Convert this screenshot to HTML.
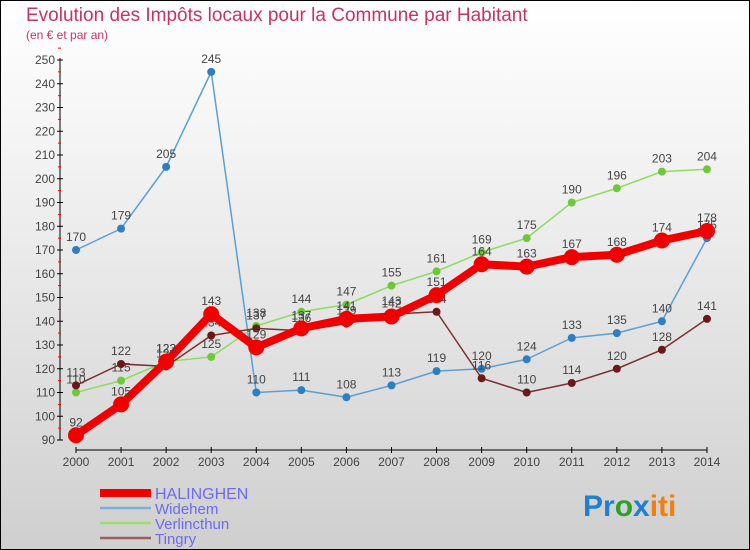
<!DOCTYPE html>
<html><head><meta charset="utf-8"><style>
body{margin:0;width:750px;height:550px;overflow:hidden;font-family:"Liberation Sans",sans-serif}
#frame{position:absolute;left:0;top:0;width:748px;height:548px;border:1px solid #000;background:linear-gradient(#fff,#f2f2f2 30%,#cfcfcf)}
</style></head><body>
<div id="frame">
<svg id="chart" width="750" height="550" style="position:absolute;left:-1px;top:-1px">
<text x="26" y="21" font-size="19" fill="#c8325f">Evolution des Impôts locaux pour la Commune par Habitant</text>
<text x="26" y="39" font-size="12" fill="#c8325f">(en € et par an)</text>
<g id="axes"></g><g id="series"></g><g id="legend"></g>
<text x="583" y="516" font-size="30" font-weight="bold"><tspan fill="#1f7fd0">Pr</tspan><tspan fill="#2ca02c">o</tspan><tspan fill="#1f7fd0">x</tspan><tspan fill="#f07f10">iti</tspan></text>
</svg></div>
<script>
const years=[2000,2001,2002,2003,2004,2005,2006,2007,2008,2009,2010,2011,2012,2013,2014];
const halinghen=[92,105,123,143,129,137,141,142,151,164,163,167,168,174,178];
const widehem=[170,179,205,245,110,111,108,113,119,120,124,133,135,140,175];
const verlincthun=[110,115,123,125,138,144,147,155,161,169,175,190,196,203,204];
const tingry=[113,122,121,134,137,136,139,143,144,116,110,114,120,128,141];
const yTicks=[90,100,110,120,130,140,150,160,170,180,190,200,210,220,230,240,250];
const NS="http://www.w3.org/2000/svg";
const X=i=>76+i*45.07, Y=v=>440-(v-90)*2.375;
function mk(t,a,p){const e=document.createElementNS(NS,t);for(const k in a)e.setAttribute(k,a[k]);p.appendChild(e);return e;}
const ax=document.getElementById('axes');
let yl=mk('line',{x1:60,y1:58,x2:60,y2:440,stroke:'#000'},ax);


yTicks.forEach(v=>{
 mk('line',{x1:57,y1:Y(v),x2:63,y2:Y(v),stroke:'#000'},ax);
 mk('line',{x1:58,y1:Y(v+5),x2:61,y2:Y(v+5),stroke:'red'},ax);
 const t=mk('text',{x:55,y:Y(v)+4,'font-size':12,fill:'#444','text-anchor':'end'},ax);t.textContent=v;
 
 
});
let xl=mk('line',{x1:76,y1:450,x2:707,y2:450,stroke:'#000'},ax);


years.forEach((y,i)=>{
 mk('line',{x1:X(i),y1:447,x2:X(i),y2:453,stroke:'#000'},ax);
 const t=mk('text',{x:X(i),y:466,'font-size':12,fill:'#444','text-anchor':'middle'},ax);t.textContent=y;
 
 
});
const series=[
 {n:'widehem',d:widehem,c:'#5a9fd4',p:'#2f7fc0',w:1.5,r:4},
 {n:'verlincthun',d:verlincthun,c:'#8fdc5f',p:'#6ec83a',w:1.5,r:4},
 {n:'tingry',d:tingry,c:'#7a3030',p:'#6b1818',w:1.5,r:4},
 {n:'halinghen',d:halinghen,c:'#f00000',p:'#f00000',w:8,r:8}];
const sg=document.getElementById('series');
series.forEach(s=>{
 const g=mk('g',{},sg);
 
 
 mk('polyline',{points:s.d.map((v,i)=>X(i)+','+Y(v)).join(' '),fill:'none',stroke:s.c,'stroke-width':s.w,'stroke-linejoin':'round'},g);
 s.d.forEach((v,i)=>{
  const c=mk('circle',{cx:X(i),cy:Y(v),r:s.r,fill:s.p},g);
  
  
  const t=mk('text',{x:X(i),y:Y(v)-9,'font-size':12,fill:'#444','text-anchor':'middle'},g);t.textContent=v;
  
  
 });
});
const lg=document.getElementById('legend');
[['HALINGHEN','#f00000',8],['Widehem','#7ab0d8',2.5],['Verlincthun','#9edc70',2.5],['Tingry','#9a6060',2.5]].forEach((l,i)=>{
 const y=[493,508,523,538][i];
 const g=mk('g',{},lg);
 
 
 mk('line',{x1:100,y1:y,x2:151,y2:y,stroke:l[1],'stroke-width':l[2]},g);
 const t=mk('text',{x:155,y:y+6,'font-size':i==0?16:15,fill:'#6b6bf0'},g);t.textContent=l[0];
});
</script>
</body></html>
